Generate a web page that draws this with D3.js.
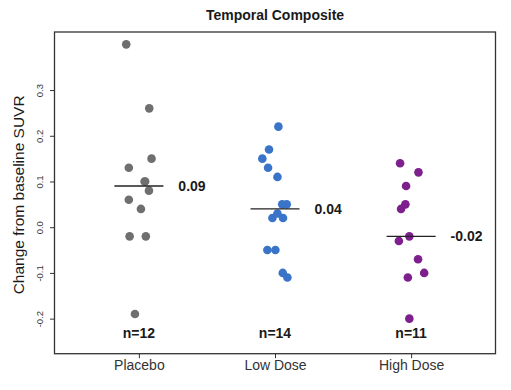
<!DOCTYPE html>
<html>
<head>
<meta charset="utf-8">
<script src="https://cdn.jsdelivr.net/npm/d3@7"></script>
<style>
  html, body { margin: 0; padding: 0; background: #fff; }
  svg { display: block; font-family: "Liberation Sans", Arial, sans-serif; }
</style>
</head>
<body>
<svg id="chart" width="511" height="390"></svg>
<script>
// ---- data ----
const title = "Temporal Composite";
const yTitle = "Change from baseline SUVR";
const categories = ["Placebo", "Low Dose", "High Dose"];
const colors = ["#6f6f6f", "#3a74c8", "#7e1f8e"];
const placeboValues = [0.40, 0.26, 0.15, 0.13, 0.10, 0.10, 0.08, 0.06, 0.04, -0.02, -0.02, -0.19];
const placeboJitter = [-0.093, 0.076, 0.093, -0.074, 0.042, 0.046, 0.074, -0.074, 0.015, -0.068, 0.051, -0.029];
const lowDoseValues = [0.22, 0.17, 0.15, 0.13, 0.11, 0.05, 0.05, 0.03, 0.02, 0.02, -0.05, -0.05, -0.10, -0.11];
const lowDoseJitter = [0.025, -0.044, -0.093, -0.051, 0.018, 0.053, 0.086, 0.018, -0.019, 0.059, -0.056, 0.003, 0.057, 0.091];
const highDoseValues = [0.14, 0.12, 0.09, 0.05, 0.04, -0.02, -0.03, -0.07, -0.10, -0.11, -0.20];
const highDoseJitter = [-0.081, 0.054, -0.037, -0.042, -0.074, -0.013, -0.090, 0.051, 0.096, -0.024, -0.013];
const yTicks = [-0.2, -0.1, 0.0, 0.1, 0.2, 0.3];

const groups = [
  { name: categories[0], values: placeboValues, jitter: placeboJitter, color: colors[0] },
  { name: categories[1], values: lowDoseValues, jitter: lowDoseJitter, color: colors[1] },
  { name: categories[2], values: highDoseValues, jitter: highDoseJitter, color: colors[2] }
];

// hyphen-minus formatter (as in the original R output)
const fmt = (spec) => { const f = d3.format(spec); return v => f(v).replace("\u2212", "-"); };

// ---- layout ----
const svg = d3.select("#chart");
const pL = 54.5, pR = 495.5, pT = 32, pB = 353.7;

const x = d3.scaleLinear().domain([0.38, 3.62]).range([pL, pR]);
const y = d3.scaleLinear().domain([-0.2767, 0.427]).range([pB, pT]);

svg.append("rect").attr("width", 511).attr("height", 390).attr("fill", "#fff");

// title
svg.append("text")
  .attr("x", (pL + pR) / 2).attr("y", 20)
  .attr("text-anchor", "middle")
  .attr("font-size", 14).attr("font-weight", "bold").attr("fill", "#1a1a1a")
  .text(title);

// y axis
const yAxis = d3.axisLeft(y).tickValues(yTicks).tickSize(4.5).tickPadding(3)
  .tickFormat(fmt(".1f"));
const gy = svg.append("g").attr("transform", `translate(${pL},0)`).call(yAxis);
gy.select(".domain").remove();
gy.selectAll(".tick line").attr("stroke", "#333").attr("stroke-width", 1);
gy.selectAll(".tick text")
  .attr("font-size", 9.5).attr("fill", "#333")
  .attr("font-family", "Liberation Sans, Arial, sans-serif")
  .attr("x", 0).attr("dy", "0.35em")
  .attr("text-anchor", "middle")
  .attr("transform", "translate(-14.5,0) rotate(-90)");

// y title
svg.append("text")
  .attr("transform", `translate(24, ${(pT + pB) / 2 + 2}) rotate(-90)`)
  .attr("text-anchor", "middle")
  .attr("font-size", 15.5).attr("fill", "#1a1a1a")
  .text(yTitle);

// x axis
const xAxis = d3.axisBottom(x).tickValues([1, 2, 3]).tickSize(4.5).tickPadding(2)
  .tickFormat((d, i) => categories[i]);
const gx = svg.append("g").attr("transform", `translate(0,${pB})`).call(xAxis);
gx.select(".domain").remove();
gx.selectAll(".tick line").attr("stroke", "#333").attr("stroke-width", 1);
gx.selectAll(".tick text").attr("font-size", 14).attr("fill", "#333")
  .attr("font-family", "Liberation Sans, Arial, sans-serif");

// box
svg.append("rect")
  .attr("x", pL).attr("y", pT)
  .attr("width", pR - pL).attr("height", pB - pT)
  .attr("fill", "none").attr("stroke", "#333").attr("stroke-width", 1.3);

// points, medians, labels
groups.forEach((g, gi) => {
  const cx = gi + 1;
  const pts = g.values.map((v, i) => ({ v, j: g.jitter[i] }));
  svg.append("g").selectAll("circle").data(pts).join("circle")
    .attr("cx", d => x(cx + d.j))
    .attr("cy", d => y(d.v))
    .attr("r", 4.3)
    .attr("fill", g.color);

  const med = d3.median(g.values);
  svg.append("line")
    .attr("x1", x(cx - 0.18)).attr("x2", x(cx + 0.18))
    .attr("y1", y(med)).attr("y2", y(med))
    .attr("stroke", "#222").attr("stroke-width", 1.4);

  svg.append("text")
    .attr("x", x(cx + 0.29)).attr("y", y(med))
    .attr("dy", "0.35em")
    .attr("font-size", 14).attr("font-weight", "bold").attr("fill", "#1a1a1a")
    .text(fmt(".2f")(med));

  svg.append("text")
    .attr("x", x(cx)).attr("y", y(-0.232))
    .attr("dy", "0.35em").attr("text-anchor", "middle")
    .attr("font-size", 14).attr("font-weight", "bold").attr("fill", "#1a1a1a")
    .text("n=" + g.values.length);
});
</script>
</body>
</html>
